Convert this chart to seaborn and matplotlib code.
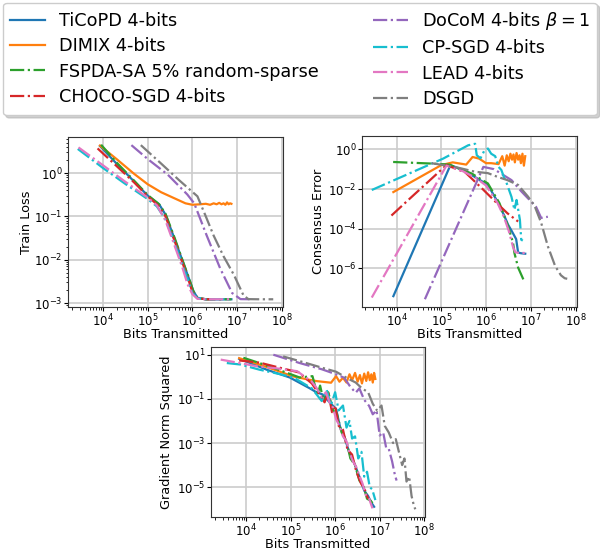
import numpy as np
import pandas as pd
import matplotlib
matplotlib.use("Agg")
import matplotlib.pyplot as plt
import seaborn as sns

# method names / colours / line styles
labels = ["TiCoPD 4-bits", "DIMIX 4-bits", "FSPDA-SA 5% random-sparse", "CHOCO-SGD 4-bits",
          r"DoCoM 4-bits $\beta = 1$", "CP-SGD 4-bits", "LEAD 4-bits", "DSGD"]
colors = ["tab:blue", "tab:orange", "tab:green", "tab:red",
          "tab:purple", "tab:cyan", "tab:pink", "tab:gray"]
styles = ["-", "-", "-.", "-.", "-.", "-.", "-.", "-."]

# tick positions shown on each panel
x_ticks = [1e4, 1e5, 1e6, 1e7, 1e8]
loss_ticks = [1e-3, 1e-2, 1e-1, 1e0]
cons_ticks = [1e-6, 1e-4, 1e-2, 1e0]
grad_ticks = [1e-5, 1e-3, 1e-1, 1e1]

# ---- Train loss
loss_ticopd_x = [8.5e3, 2e4, 5e4, 1e5, 1.8e5, 2.5e5, 4e5, 6e5, 8e5, 1.05e6, 1.3e6, 2e6, 4e6, 7.5e6]
loss_ticopd_y = [4.2, 1.65, 0.63, 0.30, 0.19, 0.11, 0.030, 0.0095, 0.0042, 0.0019, 0.00132, 0.00122, 0.00122, 0.00122]
loss_dimix_x = [8.5e3, 2e4, 5e4, 1e5, 2e5, 4e5, 7e5, 1e6, 1.5e6, 2e6, 2.5e6, 3e6, 3.5e6, 4e6, 4.5e6, 5e6, 5.5e6, 6e6, 6.5e6, 7e6, 7.5e6]
loss_dimix_y = [4.3, 2.1, 0.95, 0.55, 0.36, 0.26, 0.2, 0.185, 0.19, 0.195, 0.185, 0.2, 0.19, 0.205, 0.19, 0.2, 0.185, 0.21, 0.19, 0.2, 0.195]
loss_fspda_x = [9e3, 2e4, 5e4, 1e5, 1.8e5, 2.5e5, 4e5, 6e5, 8e5, 1.05e6, 1.3e6, 2e6, 4e6, 7.5e6]
loss_fspda_y = [4.5, 1.75, 0.66, 0.31, 0.19, 0.115, 0.032, 0.0098, 0.0043, 0.0019, 0.00132, 0.00122, 0.00122, 0.00122]
loss_choco_x = [7.5e3, 2e4, 5e4, 1e5, 1.7e5, 2.5e5, 4e5, 6e5, 8e5, 1e6, 1.3e6, 2e6, 5e6]
loss_choco_y = [3.7, 1.45, 0.6, 0.29, 0.18, 0.1, 0.027, 0.0085, 0.0037, 0.0018, 0.0013, 0.00122, 0.00122]
loss_docom_x = [4.3e4, 1e5, 2.8e5, 7.7e5, 1.1e6, 2.1e6, 4.2e6, 7.8e6, 1.2e7, 2.2e7]
loss_docom_y = [4.4, 2.1, 0.92, 0.32, 0.2, 0.036, 0.0063, 0.0017, 0.00123, 0.00122]
loss_cpsgd_x = [2.7e3, 1e4, 3e4, 1e5, 1.6e5, 2.5e5, 4e5, 6e5, 8e5, 1e6, 1.3e6, 2e6, 4e6, 6.6e6]
loss_cpsgd_y = [3.6, 1.3, 0.58, 0.25, 0.17, 0.085, 0.024, 0.0075, 0.0033, 0.0017, 0.00128, 0.00122, 0.00122, 0.00122]
loss_lead_x = [2.8e3, 1e4, 3e4, 1e5, 1.6e5, 2.5e5, 4e5, 6e5, 7.8e5, 1e6, 1.3e6, 2e6, 4e6, 7.5e6]
loss_lead_y = [3.9, 1.5, 0.65, 0.27, 0.18, 0.08, 0.021, 0.0065, 0.0027, 0.0016, 0.00125, 0.00122, 0.00122, 0.00122]
loss_dsgd_x = [7e4, 2e5, 5e5, 1.3e6, 2e6, 3e6, 5e6, 8.5e6, 1.4e7, 1.8e7, 3e7, 6.5e7]
loss_dsgd_y = [4.4, 1.65, 0.69, 0.29, 0.1, 0.036, 0.012, 0.0045, 0.0015, 0.00123, 0.00122, 0.00122]

# ---- Consensus error
cons_ticopd_x = [8.5e3, 1.6e5, 3e5, 4.8e5, 7e5, 1.1e6, 1.8e6, 2.5e6, 3.1e6, 3.7e6, 4.7e6, 5.2e6, 6e6, 7.5e6]
cons_ticopd_y = [4e-8, 0.16, 0.09, 0.05, 0.03, 0.016, 2.3e-3, 5e-4, 1.6e-4, 8e-5, 3e-5, 6.3e-6, 5.8e-6, 5.5e-6]
cons_dimix_x = [8.5e3, 1e5, 1.8e5, 3.6e5, 5e5, 7e5, 1e6, 1.3e6, 1.9e6, 2.3e6, 2.6e6, 2.9e6, 3.2e6, 3.5e6, 3.8e6,
                4.1e6, 4.4e6, 4.8e6, 5.2e6, 5.6e6, 6e6, 6.5e6, 7e6, 7.5e6]
cons_dimix_y = [7e-3, 0.16, 0.22, 0.17, 0.41, 0.34, 0.2, 0.2, 0.18, 0.45, 0.15, 0.5, 0.25, 0.6, 0.3,
                0.55, 0.22, 0.65, 0.3, 0.5, 0.2, 0.6, 0.15, 0.45]
cons_fspda_x = [8.4e3, 6.5e4, 1.5e5, 4.8e5, 1.1e6, 2e6, 3.1e6, 4e6, 4.3e6, 5.2e6, 6.8e6]
cons_fspda_y = [0.23, 0.19, 0.17, 0.06, 0.019, 1.9e-3, 1.3e-4, 2e-5, 6e-6, 1.1e-6, 2.8e-7]
cons_choco_x = [7.7e3, 1.7e4, 1.3e5, 3.4e5, 8e5, 1.9e6, 3e6, 5.2e6]
cons_choco_y = [4.6e-4, 2.4e-3, 0.16, 0.07, 0.011, 1.6e-3, 6e-4, 2.3e-4]
cons_docom_x = [4.3e4, 8.7e5, 1.5e6, 3.7e6, 6.2e6, 1.3e7, 1.7e7, 2.4e7]
cons_docom_y = [2.8e-8, 0.13, 0.1, 0.028, 7.4e-3, 1.3e-3, 3.5e-4, 4e-4]
cons_cpsgd_x = [2.8e3, 1.1e5, 4e5, 5.7e5, 6.2e5, 7.5e5, 9e5, 1.1e6, 1.3e6, 1.6e6, 1.9e6, 2.2e6, 2.5e6, 2.9e6,
                3.7e6, 4.3e6, 4.8e6, 5.7e6, 6.1e6, 6.6e6]
cons_cpsgd_y = [8.9e-3, 0.34, 1.6, 1.9, 0.5, 0.35, 0.8, 1.1, 0.6, 0.45, 0.13, 0.09, 0.04, 0.019,
                4e-3, 9e-4, 2.8e-3, 2.8e-4, 2.8e-5, 2.5e-5]
cons_lead_x = [2.8e3, 1.3e5, 3e5, 6e5, 1e6, 1.8e6, 2.5e6, 3.2e6, 4e6, 4.5e6, 5.5e6, 7.5e6]
cons_lead_y = [3.4e-8, 0.15, 0.08, 0.035, 0.015, 2e-3, 4e-4, 8e-5, 1.2e-5, 6.5e-6, 6e-6, 6e-6]
cons_dsgd_x = [6e4, 2e5, 5.7e5, 1.1e6, 1.8e6, 3e6, 5.2e6, 8.6e6, 1.2e7, 1.7e7, 2.4e7, 3.5e7, 4.7e7, 5.7e7, 6.5e7]
cons_dsgd_y = [0.2, 0.13, 0.074, 0.063, 0.041, 0.028, 0.016, 4.2e-3, 1.5e-3, 2e-4, 1.3e-5, 1.3e-6, 4.5e-7, 3.2e-7, 3e-7]

# ---- Gradient norm squared
grad_ticopd_x = [7e3, 1e4, 2.9e4, 9.6e4, 2.7e5, 3.8e5, 5.2e5, 7.5e5, 1.05e6, 1.3e6, 1.6e6, 2.1e6, 2.7e6, 3.5e6,
                 4.5e6, 5.5e6, 6.5e6, 7.5e6]
grad_ticopd_y = [6.5, 5, 2.1, 0.93, 0.3, 0.2, 0.16, 0.07, 0.035, 5e-3, 2e-3, 3.5e-4, 1.2e-4, 3e-5,
                 7e-6, 4e-6, 2e-6, 1.3e-6]
grad_dimix_x = [7e3, 2e4, 5e4, 1.1e5, 2.5e5, 3.8e5, 8.1e5, 1.05e6, 1.25e6, 1.5e6, 1.8e6, 2.1e6, 2.4e6, 2.8e6,
                3.2e6, 3.6e6, 4e6, 4.5e6, 5e6, 5.5e6, 6e6, 6.5e6, 7e6, 7.5e6, 8e6]
grad_dimix_y = [7, 3.6, 1.9, 1.06, 0.75, 0.64, 0.54, 1.07, 0.6, 0.9, 0.55, 1.3, 0.7, 1.5,
                0.6, 1.2, 0.5, 1.4, 0.65, 1.6, 0.7, 1.3, 0.55, 1.5, 0.8]
grad_fspda_x = [8.7e3, 2e4, 5e4, 1.6e5, 3.1e5, 4e5, 4.6e5, 5.5e5, 7e5, 9e5, 1.1e6, 1.4e6, 1.8e6, 2.2e6,
                2.8e6, 3.5e6, 4.3e6, 5.2e6, 6.2e6, 7.4e6]
grad_fspda_y = [7.3, 4.2, 2.2, 0.93, 1.07, 0.15, 0.4, 0.08, 0.2, 0.03, 0.02, 3e-3, 1.2e-3, 2e-4,
                1e-4, 2e-5, 1.2e-5, 3e-6, 2.5e-6, 1.6e-6]
grad_choco_x = [7e3, 2e4, 5.6e4, 1.5e5, 3e5, 4.5e5, 5.8e5, 7e5, 8.5e5, 1e6, 1.2e6, 1.5e6, 1.9e6, 2.4e6,
                3e6, 3.8e6, 4.6e6, 5.5e6]
grad_choco_y = [5.5, 4.4, 2.6, 1.6, 0.5, 0.15, 0.07, 0.2, 0.025, 0.05, 6e-3, 4e-3, 5e-4, 3e-4,
                5e-5, 1.5e-5, 8e-6, 3e-6]
grad_docom_x = [4.1e4, 1.6e5, 5e5, 1.05e6, 1.6e6, 2.2e6, 2.9e6, 3.5e6, 4.5e6, 5.8e6, 7e6, 8.5e6, 1e7, 1.2e7,
                1.4e7, 1.6e7, 1.9e7, 2.2e7, 2.4e7]
grad_docom_y = [10, 4.2, 2.2, 1.3, 0.9, 0.35, 0.19, 0.3, 0.09, 0.048, 0.02, 0.03, 2.2e-3, 3e-3,
                6e-4, 5.5e-4, 1.5e-4, 3.5e-5, 2e-5]
grad_cpsgd_x = [3.7e3, 7.5e3, 2e4, 6e4, 1.2e5, 3e5, 5e5, 6.5e5, 8e5, 1e6, 1.2e6, 1.5e6, 1.8e6, 2.1e6,
                2.4e6, 2.8e6, 3.3e6, 3.9e6, 4.5e6, 5.2e6, 6e6, 6.8e6, 8e6]
grad_cpsgd_y = [4.2, 3.6, 2.1, 1.3, 0.9, 0.3, 0.08, 0.25, 0.05, 0.2, 0.03, 0.05, 5e-3, 1e-2,
                1.6e-3, 2e-3, 2e-4, 4e-4, 3e-5, 5e-5, 1e-5, 8e-6, 2.6e-6]
grad_lead_x = [2.7e3, 6e3, 1.75e4, 5e4, 1.4e5, 3e5, 3.8e5, 5e5, 6.2e5, 7.5e5, 9e5, 1.05e6, 1.25e6, 1.5e6,
               1.8e6, 2.08e6, 2.5e6, 3e6, 3.47e6, 4.1e6, 4.9e6, 5.8e6, 6.9e6]
grad_lead_y = [6, 4.5, 3, 2.4, 1.8, 0.6, 0.32, 0.12, 0.2, 0.068, 0.04, 0.012, 6.1e-3, 2e-3,
               1.2e-3, 3.9e-4, 1.5e-4, 8e-5, 3.5e-5, 1.5e-5, 4.4e-6, 3e-6, 1.1e-6]
grad_dsgd_x = [6.8e4, 2e5, 5e5, 1.05e6, 2e6, 2.9e6, 4e6, 5.5e6, 7e6, 8.8e6, 1.1e7, 1.3e7, 1.6e7, 2e7,
               2.3e7, 2.7e7, 3.2e7, 3.6e7, 4e7, 4.6e7, 5.2e7, 5.8e7, 6.3e7]
grad_dsgd_y = [8.4, 4.5, 2.6, 1.7, 0.8, 0.55, 0.3, 0.2, 0.06, 0.029, 0.05, 6e-3, 3e-3, 1e-3,
               1.5e-3, 4e-4, 1e-4, 2e-4, 1.8e-5, 3e-5, 4e-6, 1.6e-6, 1e-6]

loss_data = [(loss_ticopd_x, loss_ticopd_y), (loss_dimix_x, loss_dimix_y), (loss_fspda_x, loss_fspda_y),
             (loss_choco_x, loss_choco_y), (loss_docom_x, loss_docom_y), (loss_cpsgd_x, loss_cpsgd_y),
             (loss_lead_x, loss_lead_y), (loss_dsgd_x, loss_dsgd_y)]
cons_data = [(cons_ticopd_x, cons_ticopd_y), (cons_dimix_x, cons_dimix_y), (cons_fspda_x, cons_fspda_y),
             (cons_choco_x, cons_choco_y), (cons_docom_x, cons_docom_y), (cons_cpsgd_x, cons_cpsgd_y),
             (cons_lead_x, cons_lead_y), (cons_dsgd_x, cons_dsgd_y)]
grad_data = [(grad_ticopd_x, grad_ticopd_y), (grad_dimix_x, grad_dimix_y), (grad_fspda_x, grad_fspda_y),
             (grad_choco_x, grad_choco_y), (grad_docom_x, grad_docom_y), (grad_cpsgd_x, grad_cpsgd_y),
             (grad_lead_x, grad_lead_y), (grad_dsgd_x, grad_dsgd_y)]

fig = plt.figure(figsize=(6, 5.57), dpi=100)
ax1 = fig.add_axes([68/600, 1-307/557, 215/600, 170/557])
ax2 = fig.add_axes([362/600, 1-307/557, 215/600, 171/557])
ax3 = fig.add_axes([211/600, 1-517/557, 214/600, 170/557])

panels = [(ax1, loss_data, "Train Loss", loss_ticks, -0.163, -0.125),
          (ax2, cons_data, "Consensus Error", cons_ticks, -0.172, -0.125),
          (ax3, grad_data, "Gradient Norm Squared", grad_ticks, -0.178, -0.125)]
for ax, data, ylab, yt, ylx, xly in panels:
    for (x, y), lab, c, ls in zip(data, labels, colors, styles):
        sns.lineplot(x=x, y=y, ax=ax, color=c, linestyle=ls, linewidth=1.6, label=lab,
                     estimator=None, sort=False, legend=False)
    ax.set_xscale("log")
    ax.set_yscale("log")
    ax.set_xticks(x_ticks)
    ax.set_yticks(yt)
    ax.grid(True, which="major", color="#cccccc", linewidth=1.2)
    ax.set_axisbelow(True)
    ax.set_xlabel("Bits Transmitted", fontsize=9.3)
    ax.set_ylabel(ylab, fontsize=9.3)
    ax.xaxis.set_label_coords(0.5, xly)
    ax.yaxis.set_label_coords(ylx, 0.5)
    ax.tick_params(labelsize=8.5, length=3, pad=1)
    ax.tick_params(which="minor", length=1.8)
    for s in ax.spines.values():
        s.set_color("0.2")

handles = ax1.get_lines()[:8]
fig.legend(handles, labels, loc="upper left", bbox_to_anchor=(0.005, 0.0, 0.99, 0.995),
           mode="expand", ncol=2, fontsize=12.7, frameon=True, fancybox=True,
           shadow={"color": "0.7", "alpha": 0.6}, edgecolor="0.8", framealpha=1,
           handlelength=2.0, labelspacing=0.42, borderaxespad=0)

fig.savefig("out.png", dpi=100)
